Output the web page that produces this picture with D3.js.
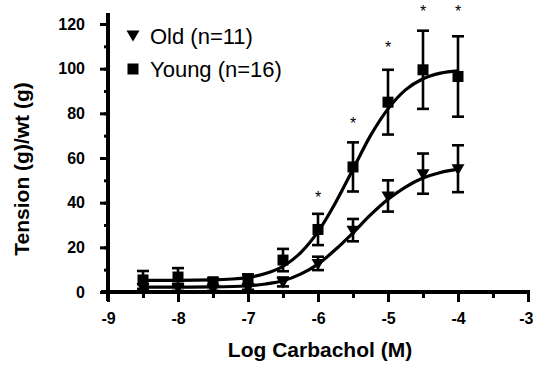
<!DOCTYPE html>
<html>
<head>
<meta charset="utf-8">
<script src="https://cdn.jsdelivr.net/npm/d3@7"></script>
<style>
  body { margin: 0; background: #fff; }
  svg { display: block; font-family: "Liberation Sans", Arial, Helvetica, sans-serif; }
</style>
</head>
<body>
<svg id="chart" width="533" height="365"></svg>
<script>
// log carbachol doses (M)
const doses = [-8.5, -8, -7.5, -7, -6.5, -6, -5.5, -5, -4.5, -4];
const youngMean = [5.4, 6.7, 4.6, 5.4, 14.3, 28, 56, 85, 99.5, 96.5];
const youngSem = [4, 4, 1.5, 2.5, 5, 7, 11, 14.5, 17.5, 18];
const oldMean = [2, 2, 1.5, 2, 4.5, 12.8, 27.7, 43, 53, 55.2];
const oldSem = [1.5, 1.5, 1, 1, 2, 3, 5, 7, 9, 10.5];

// fitted curves
const fitX = [-8.5, -8, -7.5, -7, -6.75, -6.5, -6.25, -6, -5.75, -5.5, -5.25, -5, -4.75, -4.5, -4.25, -4];
const youngFit = [5.2, 5.2, 5.4, 6.5, 8.3, 11.5, 17.5, 27, 40, 55, 70, 82, 90.5, 95.5, 98, 99];
const oldFit = [2.2, 2.2, 2.3, 2.8, 3.6, 5, 8, 12.5, 19, 26.5, 34.5, 41.5, 47, 51, 53.5, 55];

// significance stars
const starDoses = [-6, -5.5, -5, -4.5, -4];
const starY = [44, 77, 111, 127, 127];

const xTicks = [-9, -8, -7, -6, -5, -4, -3];
const yTicks = [0, 20, 40, 60, 80, 100, 120];
const legendLabels = ["Old (n=11)", "Young (n=16)"];

const svg = d3.select('#chart');
const x = d3.scaleLinear().domain([-9, -3]).range([108, 528]);
const y = d3.scaleLinear().domain([0, 120]).range([292, 24]);

// axes
const xMinor = d3.range(-9, -2.9, 0.5);
const yMinor = d3.range(0, 121, 10);

svg.append('g')
    .attr('transform', 'translate(0,292)')
    .call(d3.axisBottom(x).tickValues(xMinor).tickSize(6).tickFormat(''))
    .call(g => g.select('.domain').remove())
    .call(g => g.selectAll('line').attr('stroke-width', 3));

const xAxis = svg.append('g')
    .attr('transform', 'translate(0,292)')
    .call(d3.axisBottom(x).tickValues(xTicks).tickSize(10).tickPadding(11).tickFormat(d => String(d)));
xAxis.select('.domain').remove();
xAxis.selectAll('line').attr('stroke-width', 3);
xAxis.selectAll('text').attr('font-size', 16).attr('font-weight', 'bold').attr('font-family', null);
// last label sits on the window edge
xAxis.selectAll('text').filter(d => d === -3).attr('text-anchor', 'end').attr('x', 5);

svg.append('g')
    .attr('transform', 'translate(108,0)')
    .call(d3.axisLeft(y).tickValues(yMinor).tickSize(4).tickFormat(''))
    .call(g => g.select('.domain').remove())
    .call(g => g.selectAll('line').attr('stroke-width', 3));

const yAxis = svg.append('g')
    .attr('transform', 'translate(108,0)')
    .call(d3.axisLeft(y).tickValues(yTicks).tickSize(8).tickPadding(15));
yAxis.select('.domain').remove();
yAxis.selectAll('line').attr('stroke-width', 3);
yAxis.selectAll('text').attr('font-size', 16).attr('font-weight', 'bold').attr('font-family', null);

// axis lines (a bit past the ends like the original)
svg.append('line')
    .attr('x1', x(-9) - 7).attr('x2', x(-3) + 2)
    .attr('y1', y(0)).attr('y2', y(0))
    .attr('stroke', 'black').attr('stroke-width', 4);
svg.append('line')
    .attr('x1', x(-9)).attr('x2', x(-9))
    .attr('y1', y(120) - 11).attr('y2', y(0) + 9)
    .attr('stroke', 'black').attr('stroke-width', 4);

// titles
svg.append('text')
    .attr('x', 320).attr('y', 357)
    .attr('text-anchor', 'middle')
    .attr('font-size', 21).attr('font-weight', 'bold')
    .text('Log Carbachol (M)');
svg.append('text')
    .attr('transform', 'translate(29,169) rotate(-90)')
    .attr('text-anchor', 'middle')
    .attr('font-size', 21).attr('font-weight', 'bold')
    .text('Tension (g)/wt (g)');

// fitted curves
const line = d3.line()
    .x(d => x(d[0]))
    .y(d => y(d[1]))
    .curve(d3.curveMonotoneX);
[youngFit, oldFit].forEach(fit => {
    svg.append('path')
        .datum(fitX.map((v, i) => [v, fit[i]]))
        .attr('d', line)
        .attr('fill', 'none')
        .attr('stroke', 'black')
        .attr('stroke-width', 3.2);
});

// error bars
function drawErrors(mean, sem) {
    const g = svg.append('g').attr('stroke', 'black').attr('stroke-width', 2.6);
    doses.forEach((d, i) => {
        const lo = y(mean[i] - sem[i]), hi = y(mean[i] + sem[i]);
        g.append('line').attr('x1', x(d)).attr('x2', x(d)).attr('y1', lo).attr('y2', hi);
        g.append('line').attr('x1', x(d) - 6).attr('x2', x(d) + 6).attr('y1', lo).attr('y2', lo);
        g.append('line').attr('x1', x(d) - 6).attr('x2', x(d) + 6).attr('y1', hi).attr('y2', hi);
    });
}
drawErrors(youngMean, youngSem);
drawErrors(oldMean, oldSem);

const triPath = 'M-6.5,-4.5L6.5,-4.5L0,6.5Z';
const sq = 11;

svg.selectAll('.young')
    .data(doses)
    .enter()
    .append('rect')
    .attr('class', 'young')
    .attr('x', d => x(d) - sq / 2)
    .attr('y', (d, i) => y(youngMean[i]) - sq / 2)
    .attr('width', sq).attr('height', sq)
    .attr('fill', 'black');

svg.selectAll('.old')
    .data(doses)
    .enter()
    .append('path')
    .attr('class', 'old')
    .attr('d', triPath)
    .attr('transform', (d, i) => `translate(${x(d)},${y(oldMean[i])})`)
    .attr('fill', 'black');

// stars
svg.selectAll('.star')
    .data(starDoses)
    .enter()
    .append('text')
    .attr('class', 'star')
    .attr('x', d => x(d))
    .attr('y', (d, i) => y(starY[i]) + 9)
    .attr('text-anchor', 'middle')
    .attr('font-size', 16)
    .text('*');

// legend
svg.append('path').attr('d', triPath).attr('transform', 'translate(133,35)').attr('fill', 'black');
svg.append('rect').attr('x', 133 - sq / 2).attr('y', 69 - sq / 2).attr('width', sq).attr('height', sq).attr('fill', 'black');
legendLabels.forEach((t, i) => {
    svg.append('text')
        .attr('x', 150).attr('y', 44 + i * 33)
        .attr('font-size', 22)
        .text(t);
});
</script>
</body>
</html>
